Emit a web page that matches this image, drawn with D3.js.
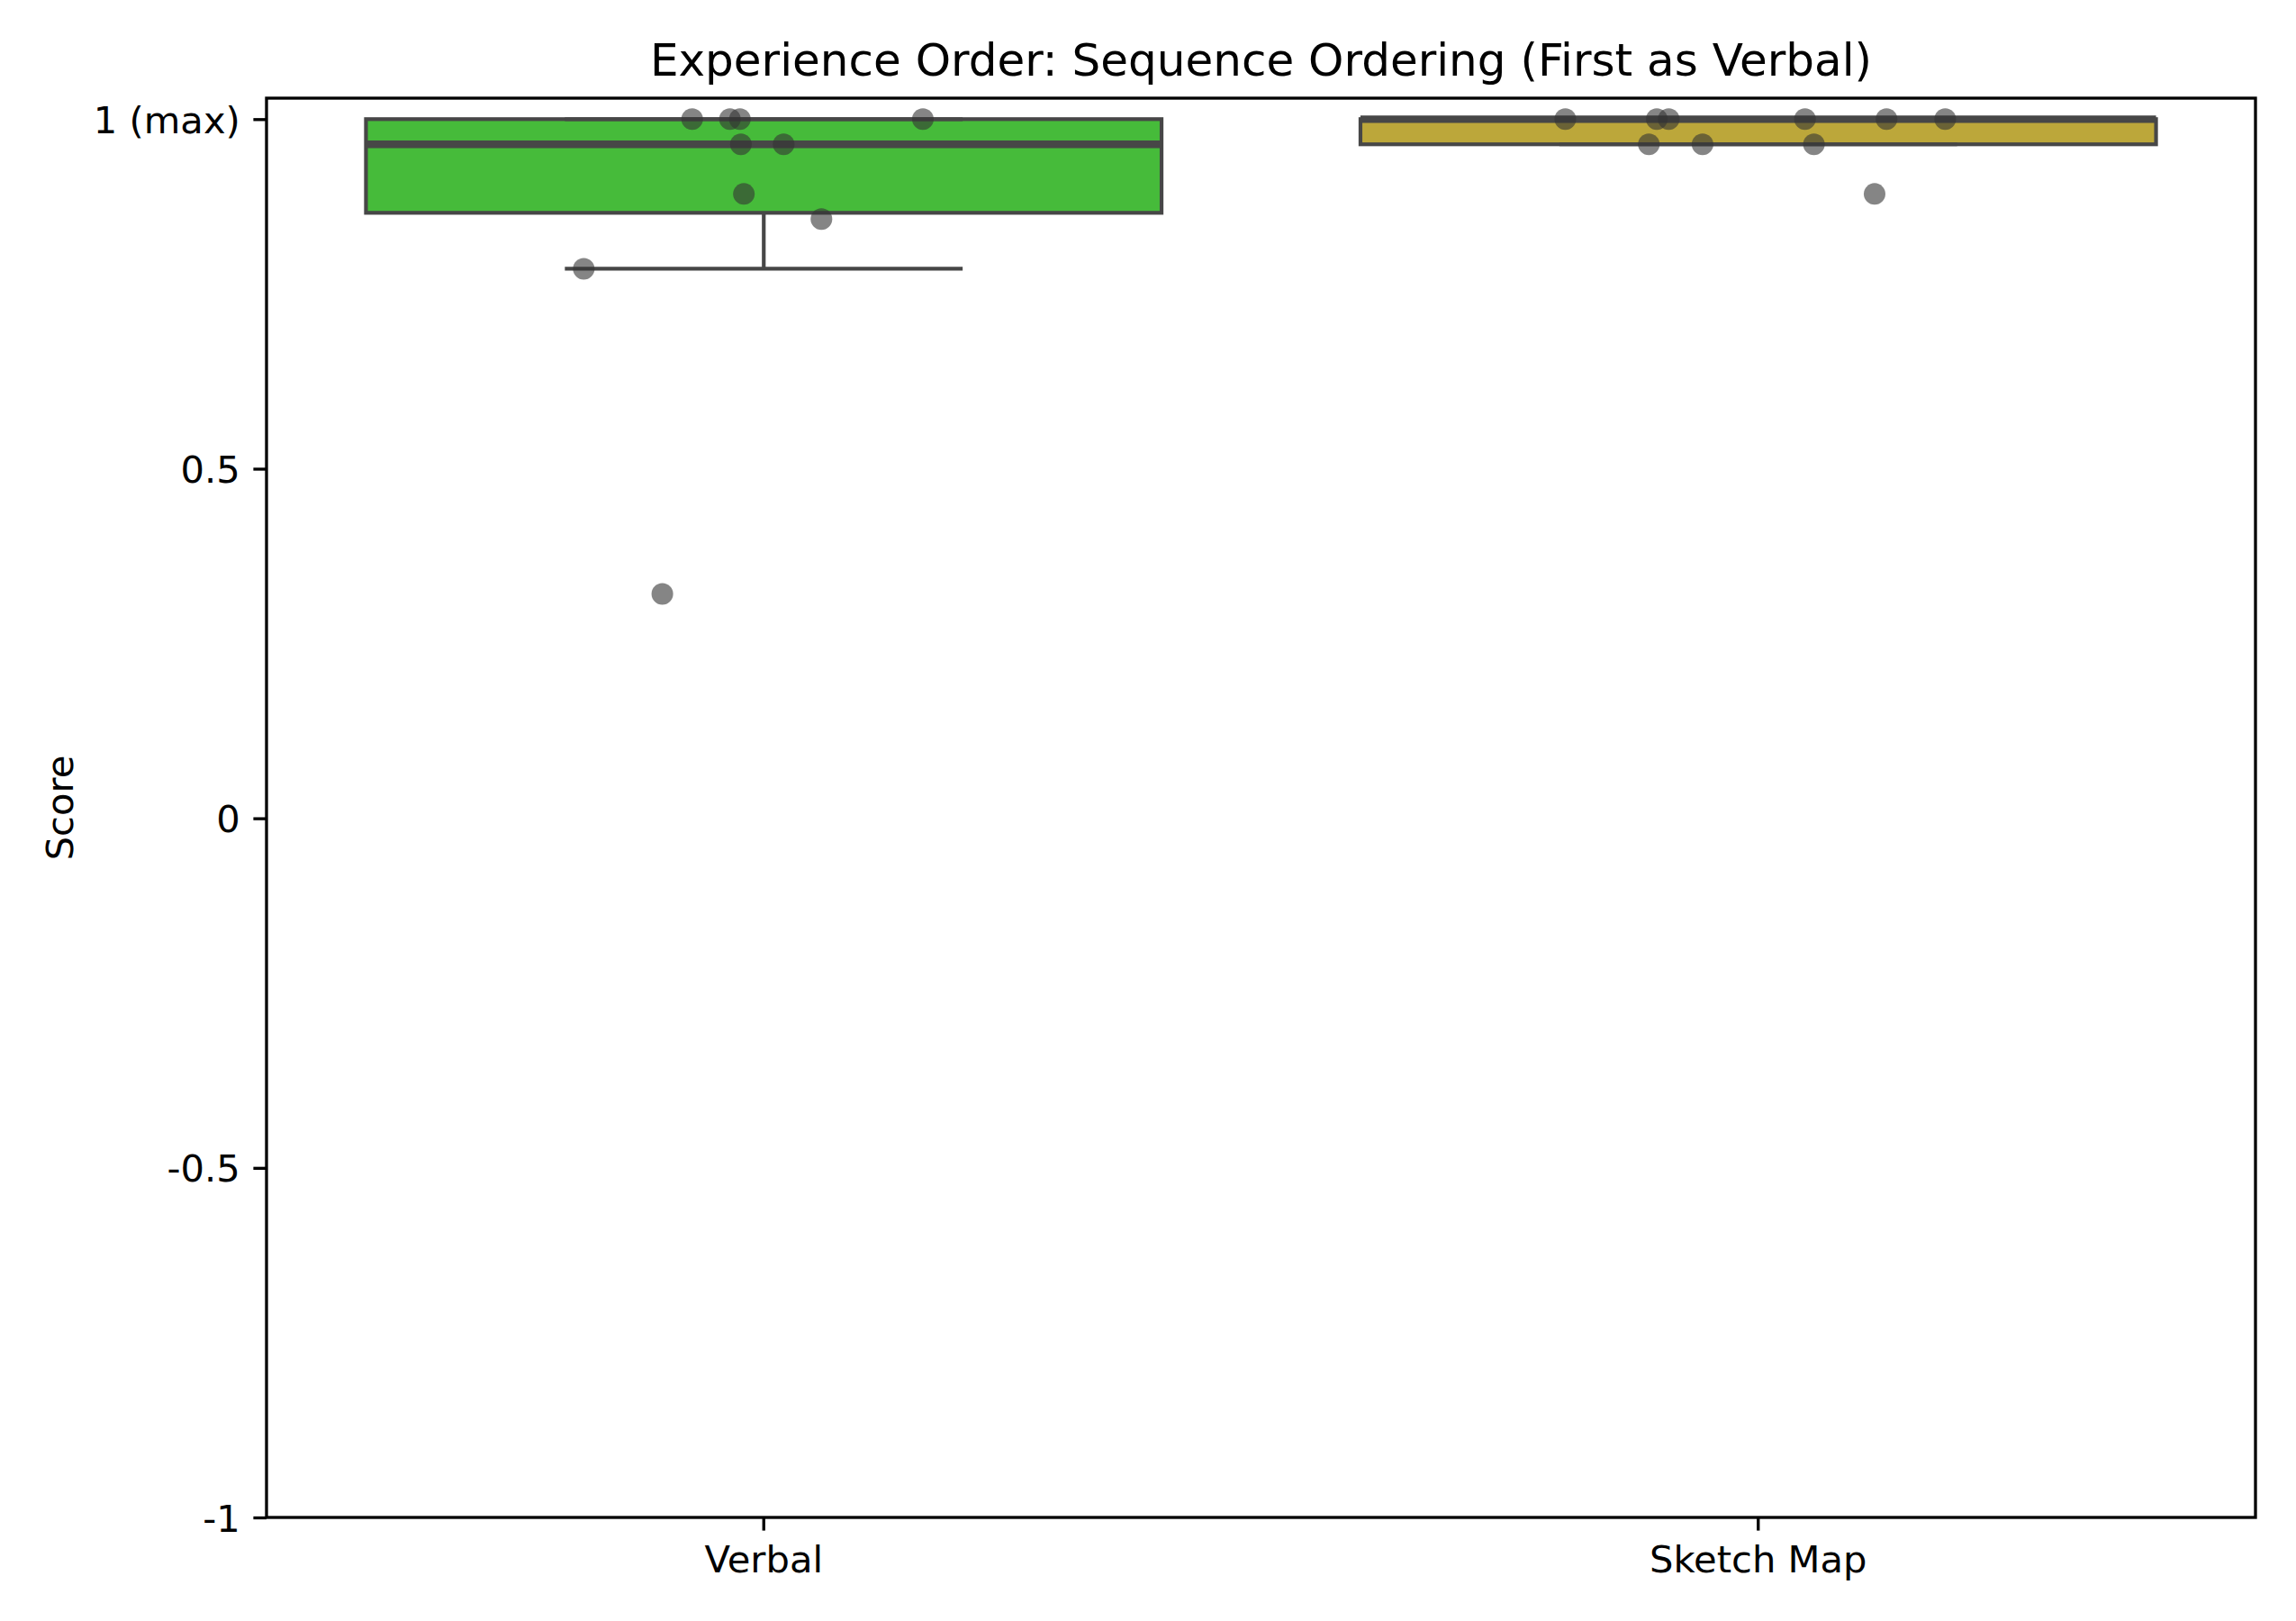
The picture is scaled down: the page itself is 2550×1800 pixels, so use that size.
<!DOCTYPE html>
<html>
<head>
<meta charset="utf-8">
<script src="https://cdn.jsdelivr.net/npm/d3@7"></script>
<style>
  html, body { margin: 0; padding: 0; background: #fff; }
  svg { display: block; }
  text { font-family: "DejaVu Sans", sans-serif; fill: #000; }
</style>
</head>
<body>
<script>
// ---- Data ----
const categories = ["Verbal", "Sketch Map"];
const boxColors = ["#46bb3a", "#bca73a"];
const verbalScores = [1, 1, 1, 1, 0.964, 0.964, 0.893, 0.857, 0.786, 0.321];
const verbalJitter = [-0.072, -0.034, -0.024, 0.160, -0.023, 0.020, -0.020, 0.058, -0.181, -0.102];
const sketchScores = [1, 1, 1, 1, 1, 1, 0.964, 0.964, 0.964, 0.893];
const sketchJitter = [-0.194, -0.102, -0.090, 0.047, 0.129, 0.188, -0.110, -0.056, 0.056, 0.117];
const yTicks = [-1, -0.5, 0, 0.5, 1];
const yTickLabels = ["-1", "-0.5", "0", "0.5", "1 (max)"];
const titleText = "Experience Order: Sequence Ordering (First as Verbal)";
const yLabelText = "Score";

const seriesScores = [verbalScores, sketchScores];
const seriesJitter = [verbalJitter, sketchJitter];

// ---- Layout ----
const W = 2550, H = 1800;
const pLeft = 296, pRight = 2505, pTop = 109, pBottom = 1685;
const edge = "#474747";
const spineW = 3.33;
const tickLen = 14.6, tickPad = 14.6;
const tickFont = 41.67;

const svg = d3.select("body").append("svg").attr("width", W).attr("height", H);

const x = d3.scaleBand().domain(categories).range([pLeft, pRight]).paddingInner(0).paddingOuter(0);
const bw = x.bandwidth();
const y = d3.scaleLinear().domain([-1, 1.03]).range([pBottom, pTop]);

const plot = svg.append("g");

categories.forEach((cat, i) => {
  const vals = seriesScores[i].slice().sort(d3.ascending);
  const q1 = d3.quantile(vals, 0.25);
  const med = d3.quantile(vals, 0.5);
  const q3 = d3.quantile(vals, 0.75);
  const iqr = q3 - q1;
  const lo = d3.min(vals.filter(v => v >= q1 - 1.5 * iqr));
  const hi = d3.max(vals.filter(v => v <= q3 + 1.5 * iqr));
  const cx = x(cat) + bw / 2;
  const boxW = 0.8 * bw, capW = 0.4 * bw;
  const g = plot.append("g");
  g.append("line").attr("x1", cx).attr("x2", cx).attr("y1", y(q1)).attr("y2", y(lo))
    .attr("stroke", edge).attr("stroke-width", 4.2);
  g.append("line").attr("x1", cx).attr("x2", cx).attr("y1", y(q3)).attr("y2", y(hi))
    .attr("stroke", edge).attr("stroke-width", 4.2);
  g.append("rect").attr("x", cx - boxW / 2).attr("width", boxW)
    .attr("y", y(q3)).attr("height", Math.max(0, y(q1) - y(q3)))
    .attr("fill", boxColors[i]).attr("stroke", edge).attr("stroke-width", 4.2);
  [lo, hi].forEach(v => {
    g.append("line").attr("x1", cx - capW / 2).attr("x2", cx + capW / 2)
      .attr("y1", y(v)).attr("y2", y(v))
      .attr("stroke", edge).attr("stroke-width", 4.2);
  });
  g.append("line").attr("x1", cx - boxW / 2).attr("x2", cx + boxW / 2)
    .attr("y1", y(med)).attr("y2", y(med))
    .attr("stroke", edge).attr("stroke-width", 8.3);
});

categories.forEach((cat, i) => {
  const cx = x(cat) + bw / 2;
  plot.append("g").selectAll("circle")
    .data(seriesScores[i].map((v, k) => ({v, j: seriesJitter[i][k]})))
    .join("circle")
    .attr("cx", d => cx + d.j * bw)
    .attr("cy", d => y(d.v))
    .attr("r", 12)
    .attr("fill", "#333333")
    .attr("fill-opacity", 0.6);
});

const yAxis = d3.axisLeft(y).tickValues(yTicks)
  .tickFormat((d, k) => yTickLabels[k]).tickSize(tickLen).tickPadding(tickPad);
const gy = svg.append("g").attr("transform", `translate(${pLeft},0)`).call(yAxis);
gy.select(".domain").remove();
gy.selectAll(".tick line").attr("stroke", "#000").attr("stroke-width", spineW);
gy.selectAll(".tick text").attr("font-size", tickFont).attr("font-family", "DejaVu Sans").attr("dy", "0.36em").attr("fill", "#000");

const xAxis = d3.axisBottom(x).tickSize(tickLen).tickPadding(tickPad);
const gx = svg.append("g").attr("transform", `translate(0,${pBottom})`).call(xAxis);
gx.select(".domain").remove();
gx.selectAll(".tick line").attr("stroke", "#000").attr("stroke-width", spineW);
gx.selectAll(".tick text").attr("font-size", tickFont).attr("font-family", "DejaVu Sans").attr("dy", "0.76em").attr("fill", "#000");

svg.append("rect").attr("x", pLeft).attr("y", pTop).attr("width", pRight - pLeft).attr("height", pBottom - pTop)
  .attr("fill", "none").attr("stroke", "#000").attr("stroke-width", spineW);

svg.append("text").attr("x", (pLeft + pRight) / 2).attr("y", 84).attr("text-anchor", "middle")
  .attr("font-size", 50).text(titleText);

svg.append("text").attr("transform", `translate(81,${(pTop + pBottom) / 2}) rotate(-90)`)
  .attr("text-anchor", "middle").attr("font-size", tickFont).text(yLabelText);
</script>
</body>
</html>
